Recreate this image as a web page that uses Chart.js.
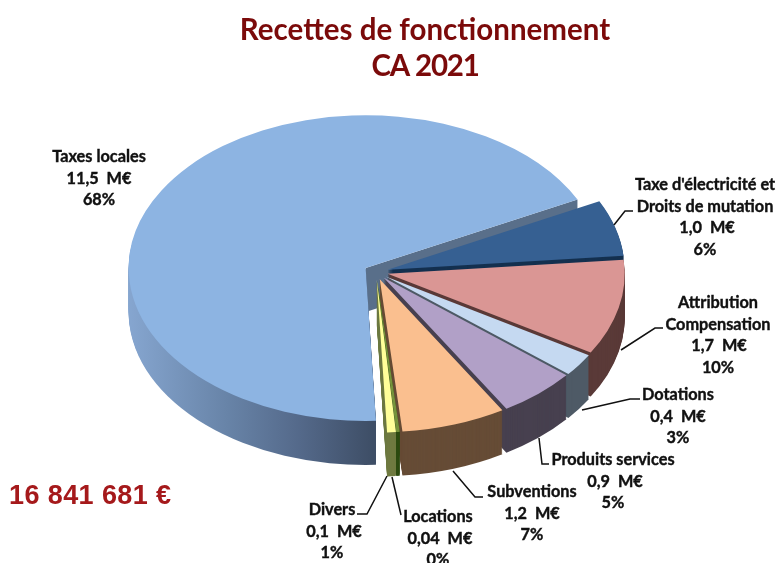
<!DOCTYPE html>
<html><head><meta charset="utf-8">
<script src="https://cdn.jsdelivr.net/npm/chart.js@4"></script>
<style>html,body{margin:0;padding:0;background:#fff}canvas{display:block}</style>
</head><body>
<canvas id="c" width="779" height="563"></canvas>
<script>
const categories = ["Taxes locales","Taxe d'électricité et Droits de mutation","Attribution Compensation","Dotations","Produits services","Subventions","Locations","Divers"];
const valuesMEuro = [11.5,1.0,1.7,0.4,0.9,1.2,0.04,0.1];
const valueLabels = ["11,5","1,0","1,7","0,4","0,9","1,2","0,04","0,1"];
const percentLabels = ["68%","6%","10%","3%","5%","7%","0%","1%"];
const titleLines = ["Recettes de fonctionnement","CA 2021"];
const totalLabel = "16 841 681 €";

const topColors = ["#8DB4E2","#366092","#DA9694","#C5D9F1","#B1A0C7","#FABF8F","#76933C","#FFFF99"];
const wallColors = [null,"#14304F","#5A3A38","#4E5A66","#47404F","#664C36","#2C4A10","#6F7A40"];
const SQUASH = 0.645, DEPTH = 44, CX = 376, CY = 272, EXPLODE = 12;

const labelLayout = [
 {lines:["Taxes locales"],x:99,y:157,lead:null},
 {lines:["Taxe d'électricité et","Droits de mutation"],x:705,y:185,dv:2,lead:[[614,225],[625,211],[633,211]]},
 {lines:["Attribution","Compensation"],x:718,y:303,dv:1,lead:[[621,350],[655,328],[663,328]]},
 {lines:["Dotations"],x:678,y:395,lead:[[582,410],[630,399],[640,399]]},
 {lines:["Produits services"],x:613,y:460,dv:2,lead:[[539,438],[542,464],[549,464]]},
 {lines:["Subventions"],x:532,y:492,lead:[[453,471],[475,497],[483,497]]},
 {lines:["Locations"],x:438,y:517,dv:2,lead:[[392,477],[401,515]]},
 {lines:["Divers"],x:332,y:510,dv:2,lead:[[387,476],[367,514],[357,514]]}
];

const pie3d = {
  id:'pie3d',
  beforeDatasetDraw(chart,args){
    const ctx = chart.ctx, meta = args.meta;
    const grad = ctx.createLinearGradient(128,0,373,0);
    grad.addColorStop(0,'#86A6D0');
    grad.addColorStop(0.4,'#6884A8');
    grad.addColorStop(0.7,'#54698A');
    grad.addColorStop(1,'#3E4E66');
    const sy = y=>CY+(y-CY)*SQUASH;
    meta.data.forEach((arc,i)=>{
      const p = arc.getProps(['x','y','startAngle','endAngle','outerRadius']);
      const half = (p.startAngle+p.endAngle)/2;
      const dx = Math.cos(half)*EXPLODE, dy0 = Math.sin(half)*EXPLODE;
      const ax = p.x+dx, ay = p.y+dy0, r = p.outerRadius;
      if(i===0){
        const ex = ax+Math.cos(p.endAngle)*r, ey = sy(ay+Math.sin(p.endAngle)*r);
        ctx.fillStyle='#596F8A';
        ctx.beginPath();ctx.moveTo(ax,sy(ay));ctx.lineTo(ex,ey);ctx.lineTo(ex,ey+DEPTH);ctx.lineTo(ax,sy(ay)+DEPTH);ctx.closePath();ctx.fill();
      }
      for(let dy=DEPTH;dy>=1;dy--){
        ctx.save();
        ctx.translate(CX,CY+dy);ctx.scale(1,SQUASH);ctx.translate(-CX,-CY);
        ctx.fillStyle = i===0 ? grad : wallColors[i];
        ctx.beginPath();
        ctx.moveTo(ax,ay);
        ctx.arc(ax,ay,r,p.startAngle,i===0?Math.PI*1.05:p.endAngle);
        ctx.closePath();ctx.fill();
        ctx.restore();
      }
      ctx.save();
      ctx.translate(CX,CY);ctx.scale(1,SQUASH);ctx.translate(-CX,-CY);
      ctx.translate(dx,dy0);
      arc.draw(ctx);
      ctx.restore();
    });
    return false;
  },
  afterDraw(chart){
    const ctx = chart.ctx;
    ctx.save();
    ctx.textAlign='center';ctx.textBaseline='middle';
    ctx.fillStyle='#7B0A0A';
    ctx.font='bold 29.5px Lato';
    ctx.fillText(titleLines[0],425,30);
    ctx.letterSpacing='-1.2px';
    ctx.fillText(titleLines[1],425,66);
    ctx.letterSpacing='0.4px';
    ctx.fillStyle='#A5191B';
    ctx.font='bold 27px "Liberation Sans"';
    ctx.textAlign='left';
    ctx.fillText(totalLabel,9,497);
    ctx.letterSpacing='0px';
    ctx.textAlign='center';
    ctx.font='bold 16.3px Lato';
    ctx.fillStyle='#111';
    ctx.strokeStyle='#111';
    labelLayout.forEach((l,i)=>{
      const rows=[...l.lines,valueLabels[i]+"  M€",percentLabels[i]];
      ctx.lineWidth=0.4;
      rows.forEach((t,k)=>{
        const isVal=k===l.lines.length;
        const x=l.x+(isVal&&l.dv?l.dv:0), y=l.y+k*21.5;
        ctx.fillText(t,x,y);
        ctx.strokeText(t,x,y);
      });
      if(l.lead){
        ctx.lineWidth=1.5;
        ctx.beginPath();
        l.lead.forEach(([x,y],k)=>k?ctx.lineTo(x,y):ctx.moveTo(x,y));
        ctx.stroke();
      }
    });
    ctx.restore();
  }
};

new Chart(document.getElementById('c'),{
  type:'pie',
  data:{labels:categories,datasets:[{
    data:valuesMEuro,
    backgroundColor:topColors,
    borderWidth:0,
    hoverOffset:0,
    radius:237
  }]},
  options:{
    responsive:false,
    animation:false,
    rotation:177.5,
    layout:{padding:{left:0,right:27,top:0,bottom:19}},
    plugins:{legend:{display:false},title:{display:false},tooltip:{enabled:false}}
  },
  plugins:[pie3d]
});
</script>
</body></html>
